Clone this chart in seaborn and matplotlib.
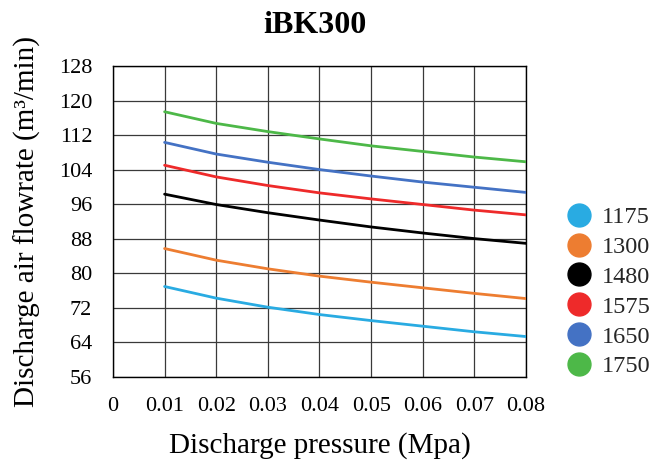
import matplotlib
matplotlib.use("Agg")
import matplotlib.pyplot as plt
from matplotlib.lines import Line2D
import seaborn as sns
import pandas as pd

# Discharge pressure (MPa) at which each speed curve is sampled
pressure = [0.01, 0.02, 0.03, 0.04, 0.05, 0.06, 0.07, 0.08]

# Air flowrate (m3/min) per rotor speed
flow_1175 = [76.9, 74.2, 72.1, 70.4, 69.0, 67.7, 66.4, 65.3]
flow_1300 = [85.7, 83.0, 81.0, 79.3, 77.9, 76.6, 75.3, 74.1]
flow_1480 = [98.3, 95.9, 94.0, 92.3, 90.7, 89.3, 88.0, 86.9]
flow_1575 = [105.0, 102.3, 100.3, 98.6, 97.2, 95.9, 94.6, 93.5]
flow_1650 = [110.3, 107.6, 105.7, 104.0, 102.5, 101.1, 99.9, 98.7]
flow_1750 = [117.4, 114.7, 112.8, 111.1, 109.5, 108.2, 106.9, 105.8]

speeds = ["1175", "1300", "1480", "1575", "1650", "1750"]
colors = ["#29ABE2", "#ED7D31", "#000000", "#EE2A2A", "#4472C4", "#4DB848"]
x_ticks = [0, 0.01, 0.02, 0.03, 0.04, 0.05, 0.06, 0.07, 0.08]
x_tick_labels = ["0", "0.01", "0.02", "0.03", "0.04", "0.05", "0.06", "0.07", "0.08"]
y_ticks = [56, 64, 72, 80, 88, 96, 104, 112, 120, 128]

series = [flow_1175, flow_1300, flow_1480, flow_1575, flow_1650, flow_1750]
df = pd.DataFrame(
    [(p, v, s) for s, vals in zip(speeds, series) for p, v in zip(pressure, vals)],
    columns=["pressure", "flow", "speed"],
)

sns.set_theme(style="white")
plt.rcParams["font.family"] = ["Liberation Serif", "DejaVu Serif"]

fig = plt.figure(figsize=(6.63, 4.61), dpi=100)
ax = fig.add_axes([0.1704, 0.1829, 0.6230, 0.6739])

sns.lineplot(
    data=df, x="pressure", y="flow", hue="speed", hue_order=speeds,
    palette=colors, linewidth=2.0, legend=False, ax=ax, zorder=3,
)

ax.set_xlim(0, 0.08)
ax.set_ylim(56, 128)
ax.set_xticks(x_ticks)
ax.set_xticklabels(x_tick_labels)
ax.set_yticks(y_ticks)
ax.tick_params(axis="both", labelsize=16, colors="black", length=0)
ax.tick_params(axis="x", pad=14.5)
ax.tick_params(axis="y", pad=15)
ax.grid(True, color="#3a3a3a", linewidth=0.9)
for sp in ax.spines.values():
    sp.set_color("black")
    sp.set_linewidth(1.0)

ax.set_xlabel("Discharge pressure (Mpa)", fontsize=21, color="black", va="center")
ax.xaxis.set_label_coords(0.5, -0.222)
ax.set_ylabel("Discharge air flowrate (m³/min)", fontsize=21, color="black", va="center")
ax.yaxis.set_label_coords(-0.208, 0.5)
ax.text(0.49, 1.132, "iBK300", transform=ax.transAxes, ha="center", va="center",
        fontsize=23, fontweight="bold", color="black")

handles = [
    Line2D([], [], marker="o", linestyle="none", markersize=16.5,
           markerfacecolor=c, markeredgecolor=c)
    for c in colors
]
fig.legend(
    handles, speeds, loc="center left", bbox_to_anchor=(0.851, 0.367),
    frameon=False, fontsize=17.5, handletextpad=0.35, labelspacing=0.32,
    handlelength=1.2, borderpad=0, borderaxespad=0,
)

fig.savefig("out.png", dpi=100)
